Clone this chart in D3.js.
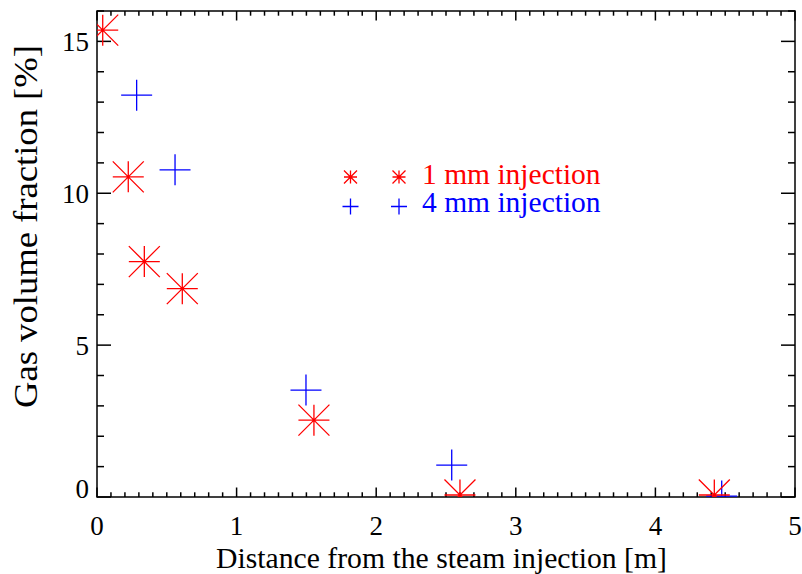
<!DOCTYPE html>
<html>
<head>
<meta charset="utf-8">
<script src="https://cdn.jsdelivr.net/npm/d3@7"></script>
<style>
  html, body { margin: 0; padding: 0; background: #fff; }
</style>
</head>
<body>
<script>
// ---- data ----
const series1Name = "1 mm injection";
const series1X = [0.041, 0.224, 0.339, 0.611, 1.554, 2.600, 4.422];
const series1Y = [15.37, 10.54, 7.75, 6.86, 2.53, 0.066, 0.066];
const series2Name = "4 mm injection";
const series2X = [0.284, 0.559, 1.497, 2.541, 4.475];
const series2Y = [13.23, 10.77, 3.52, 1.05, 0.03];
const xTicks = [0, 1, 2, 3, 4, 5];
const yTicks = [0, 5, 10, 15];
const xLabel = "Distance from the steam injection [m]";
const yLabel = "Gas volume fraction [%]";

// ---- layout ----
const W = 802, H = 574;
const L = 97, R = 795, T = 11, B = 497;
const red = "#ff0000", blue = "#0000ff";
const FONT = '"Liberation Serif"';

const svg = d3.select("body").append("svg").attr("width", W).attr("height", H);

const x = d3.scaleLinear().domain([0, 5]).range([L, R]);
const y = d3.scaleLinear().domain([0, 16]).range([B, T]);

const axisColor = "#000";
const sw = 1.5;

// frame
svg.append("rect").attr("x", L).attr("y", T).attr("width", R - L).attr("height", B - T)
  .attr("fill", "none").attr("stroke", axisColor).attr("stroke-width", sw);

// ticks
const xMinor = d3.range(0, 50 + 1).map(i => i / 10).filter(v => !xTicks.includes(v));
const yMinor = d3.range(0, 17).filter(v => !yTicks.includes(v));
const g = svg.append("g").attr("stroke", axisColor).attr("stroke-width", sw);
function hTick(v, len) {
  g.append("line").attr("x1", L).attr("x2", L + len).attr("y1", y(v)).attr("y2", y(v));
  g.append("line").attr("x1", R).attr("x2", R - len).attr("y1", y(v)).attr("y2", y(v));
}
function vTick(v, len) {
  g.append("line").attr("y1", B).attr("y2", B - len).attr("x1", x(v)).attr("x2", x(v));
  g.append("line").attr("y1", T).attr("y2", T + len).attr("x1", x(v)).attr("x2", x(v));
}
yTicks.forEach(v => hTick(v, 14));
yMinor.forEach(v => hTick(v, 7));
xTicks.forEach(v => vTick(v, 9.5));
xMinor.forEach(v => vTick(v, 4.7));

// tick labels
svg.append("g").selectAll("text").data(xTicks).join("text")
  .attr("x", d => x(d)).attr("y", B + 38)
  .attr("text-anchor", "middle").style("font-family", FONT).attr("font-size", 27).attr("fill", "#000")
  .text(d => d);
svg.append("g").selectAll("text").data(yTicks).join("text")
  .attr("x", L - 8).attr("y", d => y(d) + (d === 0 ? 1 : 10))
  .attr("text-anchor", "end").style("font-family", FONT).attr("font-size", 27).attr("fill", "#000")
  .text(d => d);

// axis titles
svg.append("text").attr("x", 216).attr("y", 568)
  .style("font-family", FONT).attr("font-size", 29).attr("fill", "#000")
  .attr("textLength", 451).attr("lengthAdjust", "spacingAndGlyphs")
  .text(xLabel);
svg.append("text").attr("transform", "translate(37,408) rotate(-90)")
  .attr("x", 0).attr("y", 0)
  .style("font-family", FONT).attr("font-size", 34).attr("fill", "#000")
  .attr("textLength", 363).attr("lengthAdjust", "spacingAndGlyphs")
  .text(yLabel);

// clip
svg.append("clipPath").attr("id", "plotclip").append("rect")
  .attr("x", L).attr("y", T).attr("width", R - L).attr("height", B - T);

function asterisk(sel, h, color) {
  const p = `M${-h},0L${h},0M0,${-h}L0,${h}M${-h},${-h}L${h},${h}M${-h},${h}L${h},${-h}`;
  sel.append("path").attr("d", p).attr("stroke", color).attr("stroke-width", 1.3).attr("fill", "none");
}
function plus(sel, h, color) {
  const p = `M${-h},0L${h},0M0,${-h}L0,${h}`;
  sel.append("path").attr("d", p).attr("stroke", color).attr("stroke-width", 1.3).attr("fill", "none");
}

const pts = svg.append("g").attr("clip-path", "url(#plotclip)");
const d1 = series1X.map((v, i) => ({ x: v, y: series1Y[i] }));
const d2 = series2X.map((v, i) => ({ x: v, y: series2Y[i] }));
pts.selectAll("g.s2").data(d2).join("g").attr("class", "s2")
  .attr("transform", d => `translate(${x(d.x)},${y(d.y)})`)
  .each(function () { plus(d3.select(this), 15.5, blue); });
pts.selectAll("g.s1").data(d1).join("g").attr("class", "s1")
  .attr("transform", d => `translate(${x(d.x)},${y(d.y)})`)
  .each(function () { asterisk(d3.select(this), 15.5, red); });

// legend
const legend = [
  { name: series1Name, color: red, sym: "ast", ly: 177, ty: 184 },
  { name: series2Name, color: blue, sym: "plus", ly: 206.5, ty: 212 }
];
legend.forEach(l => {
  [350.5, 399].forEach(lx => {
    const gg = svg.append("g").attr("transform", `translate(${lx},${l.ly})`);
    if (l.sym === "ast") asterisk(gg, 6.5, l.color); else plus(gg, 8, l.color);
  });
  svg.append("text").attr("x", 422).attr("y", l.ty)
    .style("font-family", FONT).attr("font-size", 29.5).attr("fill", l.color).text(l.name);
});
</script>
</body>
</html>
